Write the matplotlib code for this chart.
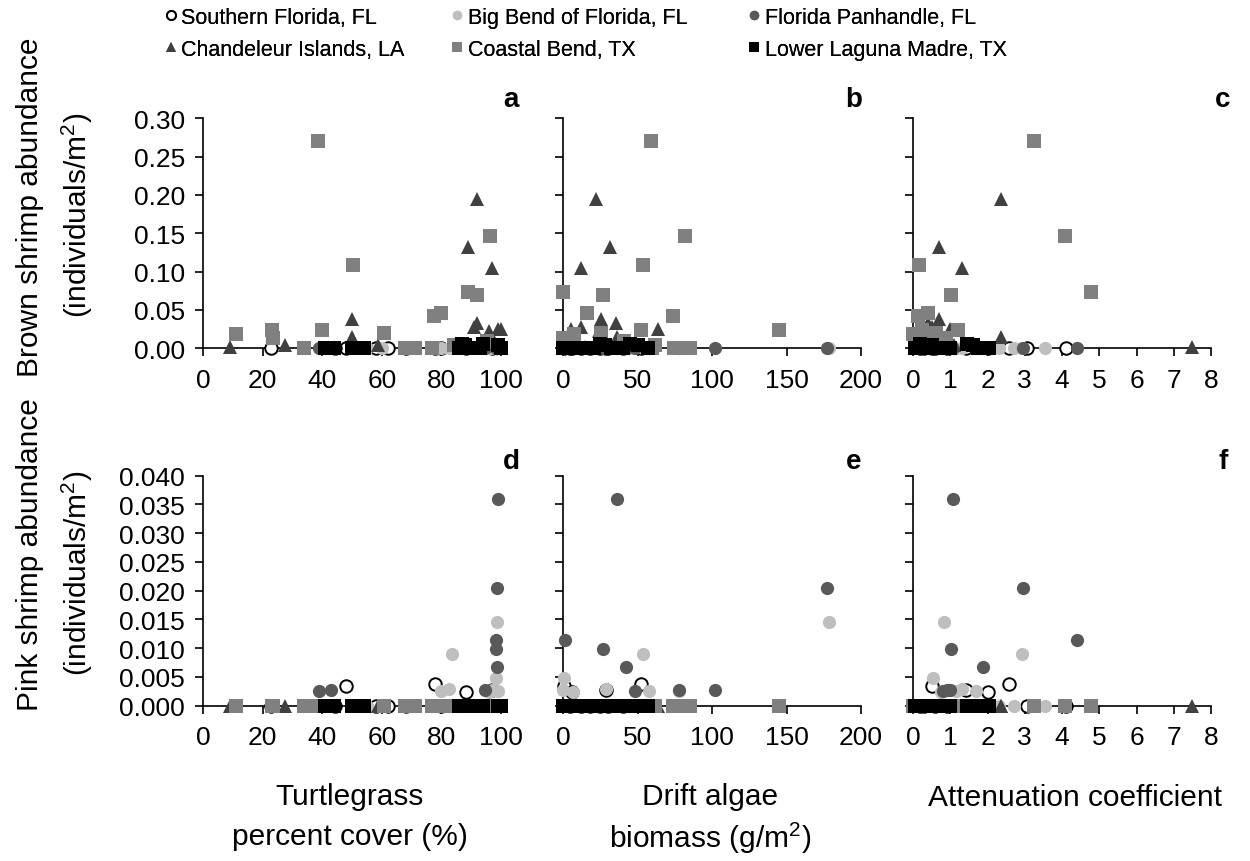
import numpy as np
import matplotlib
matplotlib.use("Agg")
import matplotlib.pyplot as plt
from matplotlib.ticker import FormatStrFormatter

plt.rcParams["font.family"] = "Liberation Sans"
plt.rcParams["mathtext.fontset"] = "custom"
plt.rcParams["mathtext.rm"] = "Liberation Sans"
plt.rcParams["mathtext.it"] = "Liberation Sans:italic"

# -----------------------------
# DATA : one entry per sampling station
# cover (%), drift algae (g/m2), attenuation coef, brown / pink shrimp (ind/m2)
# -----------------------------
sf_cover = [77.8, 48.1, 88.3, 97, 44.3, 22.7, 62, 68, 80, 58]
sf_algae = [52.2, 0.5, 6, 29, 5, 12, 25, 30, 40, 18]
sf_kd = [2.57, 0.5, 2.0, 1.41, 3.05, 4.1, 0.3, 0.6, 0.9, 0.2]
sf_brown = [0, 0, 0, 0, 0, 0, 0, 0, 0, 0]
sf_pink = [0.0038, 0.0035, 0.0024, 0.0028, 0, 0, 0, 0, 0, 0]

bb_cover = [98.6, 83.6, 98.3, 82.4, 99, 96, 97, 80, 55, 60, 85]
bb_algae = [178.6, 53.9, 0.5, 28.7, 57.6, 6.4, 0, 78, 20, 35, 45]
bb_kd = [0.83, 2.92, 0.54, 1.32, 1.68, 0.75, 1.0, 1.15, 2.3, 2.7, 3.55]
bb_brown = [0, 0, 0, 0, 0, 0, 0, 0, 0, 0, 0]
bb_pink = [0.0145, 0.0090, 0.0048, 0.0029, 0.0026, 0.0023, 0.0027, 0.0026, 0, 0, 0]

fp_cover = [99, 98.6, 98.3, 98.3, 98.7, 39, 43, 94.6]
fp_algae = [36, 177.5, 1.6, 27, 42, 48, 78, 102]
fp_kd = [1.07, 2.95, 4.40, 1.03, 1.88, 0.8, 0.9, 1.0]
fp_brown = [0, 0, 0, 0, 0, 0, 0, 0]
fp_pink = [0.0360, 0.0204, 0.0115, 0.0098, 0.0068, 0.0025, 0.0027, 0.0028]

ci_cover = [92, 89, 97, 50, 92, 100, 99, 96, 91, 50, 27.6, 58.6, 9]
ci_algae = [22.4, 31.3, 12.3, 25.3, 35.3, 63.8, 5.1, 24.2, 12.3, 36.5, 30, 45, 15]
ci_kd = [2.36, 0.69, 1.32, 0.71, 0.39, 0.98, 0.45, 0.6, 0.5, 2.36, 0.8, 1.1, 7.5]
ci_brown = [0.195, 0.132, 0.105, 0.038, 0.033, 0.025, 0.025, 0.023, 0.028, 0.015,
            0.004, 0.004, 0.002]
ci_pink = [0, 0, 0, 0, 0, 0, 0, 0, 0, 0, 0, 0, 0]

cb_cover = [38.6, 96.2, 50.2, 88.9, 92, 80, 77.6, 39.8, 23.1, 60.8, 11.1, 23.6,
            95.3, 84.2, 33.9, 67.8, 71, 76.7]
cb_algae = [59.3, 81.7, 53.9, 0.2, 27.1, 16.3, 74, 52.6, 145.2, 25.3, 7.4, 0.0,
            41, 61.5, 74.5, 78, 85, 60]
cb_kd = [3.26, 4.09, 0.17, 4.78, 1.02, 0.39, 0.13, 1.2, 0.25, 0.62, 0.0, 0.89,
         0.55, 0.8, 0.9, 0.7, 0.3, 0.5]
cb_brown = [0.270, 0.147, 0.109, 0.073, 0.070, 0.046, 0.042, 0.024, 0.024, 0.020,
            0.018, 0.014, 0.009, 0.004, 0, 0, 0, 0]
cb_pink = [0] * 18

llm_cover = [41, 42, 44, 50, 51, 53, 54, 86, 87, 88, 90, 91, 93, 94, 99, 100]
llm_algae = [0, 3, 6, 9, 12, 15, 18, 21, 25, 28, 32, 36, 40, 45, 50, 57]
llm_kd = [0.05, 0.15, 0.3, 0.45, 0.6, 0.75, 0.9, 1.0, 1.45, 1.6, 1.75, 1.9, 2.05,
          0.2, 0.5, 0.8]
llm_brown = [0, 0, 0, 0, 0, 0, 0, 0, 0.005, 0.004, 0, 0, 0, 0.006, 0.004, 0]
llm_pink = [0] * 16

site_names = ["Southern Florida, FL", "Big Bend of Florida, FL", "Florida Panhandle, FL",
              "Chandeleur Islands, LA", "Coastal Bend, TX", "Lower Laguna Madre, TX"]

x_label_lines = [["Turtlegrass", "percent cover (%)"],
                 ["Drift algae", "biomass (g/m$^2$)"],
                 ["Attenuation coefficient"]]
y_labels = ["Brown shrimp abundance", "Pink shrimp abundance"]
panel_letters = ["a", "b", "c", "d", "e", "f"]

# -----------------------------
# STYLES
# -----------------------------
styles = [
    dict(marker="o", mfc="white", mec="black", mew=1.4, ms=9),
    dict(marker="o", mfc="#bfbfbf", mec="#bfbfbf", mew=0, ms=9.5),
    dict(marker="o", mfc="#595959", mec="#595959", mew=0, ms=9.5),
    dict(marker="^", mfc="#404040", mec="#404040", mew=0, ms=9.5),
    dict(marker="s", mfc="#808080", mec="#808080", mew=0, ms=9.5),
    dict(marker="s", mfc="black", mec="black", mew=0, ms=9.5),
]

sites = [
    (sf_cover, sf_algae, sf_kd, sf_brown, sf_pink),
    (bb_cover, bb_algae, bb_kd, bb_brown, bb_pink),
    (fp_cover, fp_algae, fp_kd, fp_brown, fp_pink),
    (ci_cover, ci_algae, ci_kd, ci_brown, ci_pink),
    (cb_cover, cb_algae, cb_kd, cb_brown, cb_pink),
    (llm_cover, llm_algae, llm_kd, llm_brown, llm_pink),
]

fig = plt.figure(figsize=(12.5, 8.62), dpi=100)

lefts = [0.1624, 0.4504, 0.7304]
bottoms = [0.5948, 0.1802]
w, h = 0.2384, 0.2668
xlims = [(0, 100), (0, 200), (0, 8)]
xsteps = [20, 50, 1]
ylims = [(0, 0.30), (0, 0.04)]
ysteps = [0.05, 0.005]
yfmts = ["%.2f", "%.3f"]
letter_x = [1.035, 0.975, 1.04]
letter_y = [1.085, 1.065]

handles = []
for r in range(2):
    for c in range(3):
        ax = fig.add_axes([lefts[c], bottoms[r], w, h])
        for i, site in enumerate(sites):
            xs = site[c]
            ys = site[3 + r]
            ln, = ax.plot(xs, ys, ls="none", clip_on=False, zorder=3 + i,
                          label=site_names[i], **styles[i])
            if r == 0 and c == 0:
                handles.append(ln)
        ax.set_xlim(*xlims[c])
        ax.set_ylim(*ylims[r])
        ax.set_xticks(np.arange(xlims[c][0], xlims[c][1] + 1e-9, xsteps[c]))
        ax.set_yticks(np.arange(0, ylims[r][1] + 1e-9, ysteps[r]))
        ax.yaxis.set_major_formatter(FormatStrFormatter(yfmts[r]))
        ax.spines["top"].set_visible(False)
        ax.spines["right"].set_visible(False)
        ax.spines["left"].set_linewidth(1.2)
        ax.spines["bottom"].set_linewidth(1.2)
        ax.tick_params(direction="out", length=6, width=1.2, labelsize=19)
        ax.tick_params(axis="x", pad=8)
        ax.tick_params(axis="y", pad=7)
        if c > 0:
            ax.tick_params(labelleft=False)
        ax.text(letter_x[c], letter_y[r], panel_letters[r * 3 + c], transform=ax.transAxes,
                ha="center", va="center", fontsize=20, fontweight="bold")

# y labels
fig.text(0.024, 0.76, y_labels[0], rotation=90, ha="center", va="center", fontsize=21.5)
fig.text(0.062, 0.75, "(individuals/m$^2$)", rotation=90, ha="center", va="center",
         fontsize=21.5)
fig.text(0.024, 0.357, y_labels[1], rotation=90, ha="center", va="center", fontsize=21.5)
fig.text(0.062, 0.335, "(individuals/m$^2$)", rotation=90, ha="center", va="center",
         fontsize=21.5)

# x labels, one text per line
x_centers = [0.28, 0.568, 0.86]
line_base = [[805, 845], [805, 848], [806]]
for c in range(3):
    for k, txt in enumerate(x_label_lines[c]):
        fig.text(x_centers[c], 1 - line_base[c][k] / 862, txt, ha="center", va="baseline",
                 fontsize=21.5)

# legend : one small legend per column
order = [(0, 3), (1, 4), (2, 5)]
leg_x = [0.1305, 0.3595, 0.5975]
for k, (i, j) in enumerate(order):
    leg = fig.legend([handles[i], handles[j]], [site_names[i], site_names[j]],
                     loc="upper left", bbox_to_anchor=(leg_x[k], 0.9907), frameon=False,
                     fontsize=15.5, markerscale=0.72, handlelength=0.7, handletextpad=0.15,
                     labelspacing=0.5, borderpad=0, borderaxespad=0)
    fig.add_artist(leg)

fig.savefig("out.png", dpi=100)
